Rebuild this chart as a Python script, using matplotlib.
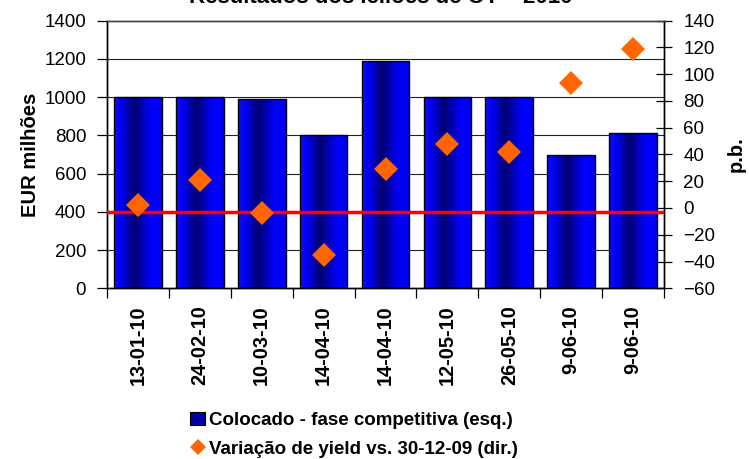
import matplotlib
matplotlib.use("Agg")
import matplotlib.pyplot as plt
import numpy as np
from matplotlib.colors import LinearSegmentedColormap
from matplotlib.lines import Line2D
from matplotlib.patches import Patch

plt.rcParams["font.family"] = ["Liberation Sans", "DejaVu Sans"]

# leilões de OT em 2010
datas = ["13-01-10", "24-02-10", "10-03-10", "14-04-10", "14-04-10",
         "12-05-10", "26-05-10", "9-06-10", "9-06-10"]
colocado = [1000, 1000, 990, 800, 1190, 1000, 1000, 695, 813]   # EUR milhões
var_yield = [2, 21, -4, -35, 29, 48, 42, 93, 119]              # p.b.
linha_ref = 400   # linha vermelha, no eixo da esquerda

titulo = "Resultados dos leilões de OT – 2010"
lbl_barras = "Colocado - fase competitiva (esq.)"
lbl_yield = "Variação de yield vs. 30-12-09 (dir.)"

ORANGE = "#FF6600"
grad = LinearSegmentedColormap.from_list(
    "barra", [(0.0, "#1010E8"), (0.12, "#0000FF"), (0.42, "#000070"),
              (0.78, "#0000FF"), (1.0, "#0000F0")])

fig = plt.figure(figsize=(7.49, 4.59), dpi=100)
ax1 = fig.add_axes([0.1429, 0.3719, 0.8865 - 0.1429, 0.9553 - 0.3719])
ax2 = ax1.twinx()

x = np.arange(len(datas))
largura = 0.77

# grelha horizontal por trás das barras
for yv in range(200, 1400, 200):
    if yv != linha_ref:
        ax1.axhline(yv, color="#222222", lw=0.8, zorder=0.5)

barras = ax1.bar(x, colocado, width=largura, facecolor="none",
                 edgecolor="black", linewidth=1.0, zorder=3)
g = np.linspace(0, 1, 64).reshape(1, -1)
for b in barras:
    x0, w, h = b.get_x(), b.get_width(), b.get_height()
    im = ax1.imshow(g, cmap=grad, aspect="auto", extent=(x0, x0 + w, 0, h),
                    zorder=2, interpolation="bilinear")
    im.set_clip_path(b)

ax1.set_xlim(-0.5, len(datas) - 0.5)
ax1.set_ylim(0, 1400)
ax1.set_yticks(range(0, 1401, 200))
ax1.set_xticks(x)
ax1.set_xticklabels(datas, rotation=90, fontsize=14.4, fontweight="bold")
ax1.set_xticks(np.arange(len(datas) + 1) - 0.5, minor=True)
ax1.tick_params(axis="x", which="major", length=0, pad=12)
ax1.tick_params(axis="x", which="minor", length=7, width=0.9, direction="out")
ax1.tick_params(axis="y", length=7, width=0.9, direction="out", pad=8,
                labelsize=13.5)
ax1.set_ylabel("EUR milhões", fontsize=14.5, fontweight="bold", labelpad=3)

# a linha vermelha fica por cima das barras, por isso vai no eixo gémeo
ax2.plot([-0.5, len(datas) - 0.5], [linha_ref] * 2, color="#FF0000", lw=2.5,
         zorder=4, transform=ax1.transData)
ax2.plot(x, var_yield, linestyle="none", marker="D", ms=12,
         color=ORANGE, markeredgewidth=0, zorder=5)
ax2.set_ylim(-60, 140)
ax2.set_yticks(range(-60, 141, 20))
ax2.tick_params(axis="y", length=12, width=0.9, direction="inout", pad=8,
                labelsize=13.5)
ax2.set_ylabel("p.b.", fontsize=14.5, fontweight="bold", labelpad=8)

for ax in (ax1, ax2):
    for s in ax.spines.values():
        s.set_linewidth(1.0)
    ax.spines["top"].set_color("#444444")

fig.text(0.508, 1 - 3 / 459, titulo, ha="center", va="baseline",
         fontsize=16, fontweight="bold")

handles = [
    Patch(facecolor="#0000A0", edgecolor="black", linewidth=0.8),
    Line2D([], [], linestyle="none", marker="D", ms=8, color=ORANGE,
           markeredgewidth=0),
]
fig.legend(handles, [lbl_barras, lbl_yield], loc="center",
           bbox_to_anchor=(0.4725, 0.053), frameon=False,
           prop={"size": 13.5, "weight": "bold"}, handlelength=0.8,
           handleheight=0.7, handletextpad=0.2, labelspacing=0.62,
           borderpad=0)

fig.savefig("out.png", dpi=100)
